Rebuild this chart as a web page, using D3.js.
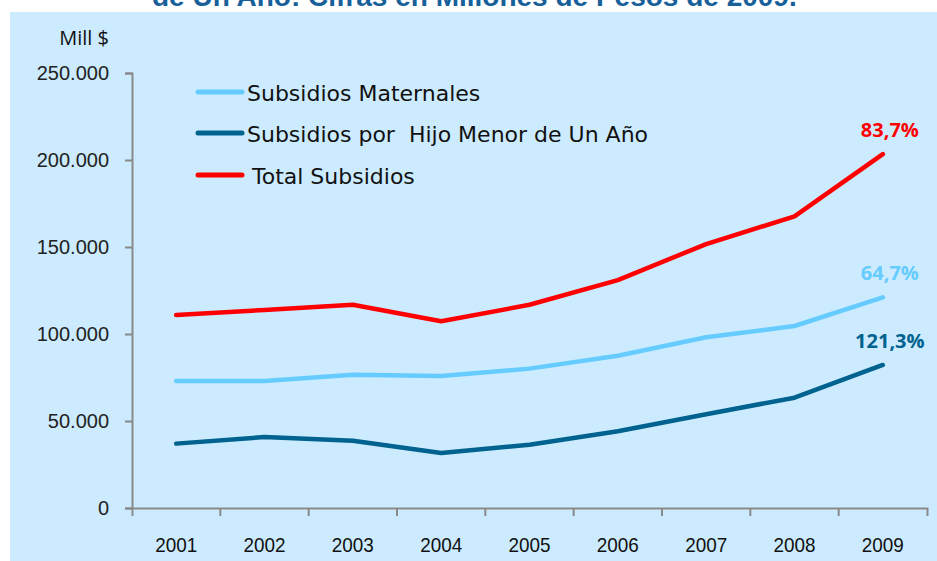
<!DOCTYPE html>
<html>
<head>
<meta charset="utf-8">
<script src="https://cdn.jsdelivr.net/npm/d3@7"></script>
<style>
  body { margin: 0; background: #fff; }
  svg { display: block; }
  text { white-space: pre; }
</style>
</head>
<body>
<svg id="chart" width="937" height="561"></svg>
<script>
// data, thousands of pesos (Mill $)
var years = ["2001", "2002", "2003", "2004", "2005", "2006", "2007", "2008", "2009"];
var maternales = [73000, 73000, 76600, 75900, 80100, 87500, 98100, 104600, 121100];
var hijoMenor = [37000, 40800, 38700, 31600, 36400, 44100, 53900, 63400, 82200];
var totalSub = [110900, 113800, 116800, 107300, 116800, 131000, 151700, 167600, 203400];
var seriesNames = ["Subsidios Maternales", "Subsidios por  Hijo Menor de Un Año", "Total Subsidios"];
var endLabels = ["64,7%", "121,3%", "83,7%"];
var yTicks = [0, 50000, 100000, 150000, 200000, 250000];

var colors = ["#66CCFF", "#00628F", "#FF0000"];

var svg = d3.select("#chart");

// title, cut off at top like the source slide
svg.append("text")
    .attr("x", 152)
    .attr("y", 6)
    .attr("fill", "#17609A")
    .style("font-family", "'Liberation Sans', Arial, sans-serif")
    .style("font-weight", "bold")
    .style("font-size", "28px")
    .text("de Un Año: Cifras en Millones de Pesos de 2009.");

// panel
svg.append("rect")
    .attr("x", 10).attr("y", 12)
    .attr("width", 927).attr("height", 549)
    .attr("fill", "#CCEBFE");

var x = d3.scaleBand().domain(years).range([132, 927]).padding(0);
var y = d3.scaleLinear().domain([0, 250000]).range([508, 73]);

var loc = d3.formatLocale({ decimal: ",", thousands: ".", grouping: [3], currency: ["$", ""] });
var fmt = loc.format(",d");

var axisColor = "#898989";

// y axis
var gy = svg.append("g")
    .attr("transform", "translate(132,0)")
    .call(d3.axisLeft(y).tickValues(yTicks).tickSize(7).tickPadding(16).tickFormat(fmt));
gy.selectAll("path, line").attr("stroke", axisColor).attr("stroke-width", 2);
gy.selectAll("text")
    .attr("fill", "#222")
    .style("font-family", "'Liberation Sans', Arial, sans-serif")
    .style("font-size", "20px");

// x axis
var gx = svg.append("g")
    .attr("transform", "translate(0,508)")
    .call(d3.axisBottom(x).tickSizeInner(0).tickSizeOuter(8).tickPadding(37));
gx.select(".domain").attr("stroke", axisColor).attr("stroke-width", 2);
gx.selectAll("text")
    .attr("fill", "#111")
    .attr("dy", "0.32em")
    .attr("textLength", 42)
    .attr("lengthAdjust", "spacingAndGlyphs")
    .style("font-family", "'Liberation Sans', Arial, sans-serif")
    .style("font-size", "21px");
gx.selectAll(".bound")
    .data(years.slice(1))
    .enter().append("line")
    .attr("class", "bound")
    .attr("x1", function(d) { return x(d); })
    .attr("x2", function(d) { return x(d); })
    .attr("y1", 0).attr("y2", 8)
    .attr("stroke", axisColor).attr("stroke-width", 2);

// y unit label
svg.append("text")
    .attr("x", 109).attr("y", 45)
    .attr("text-anchor", "end")
    .attr("fill", "#111")
    .style("font-family", "'Open Sans', sans-serif")
    .style("font-size", "20px")
    .text("Mill $");

var cx = function(i) { return x(years[i]) + x.bandwidth() / 2; };
var line = d3.line()
    .x(function(d, i) { return cx(i); })
    .y(function(d) { return y(d); });

var allSeries = [maternales, hijoMenor, totalSub];

svg.selectAll(".serie")
    .data(allSeries)
    .enter().append("path")
    .attr("class", "serie")
    .attr("fill", "none")
    .attr("stroke", function(d, i) { return colors[i]; })
    .attr("stroke-width", 4.5)
    .attr("stroke-linejoin", "round")
    .attr("stroke-linecap", "round")
    .attr("d", line);

// growth labels at the 2009 point
var last = years.length - 1;
svg.selectAll(".endlab")
    .data(allSeries)
    .enter().append("text")
    .attr("class", "endlab")
    .attr("x", cx(last) + 7)
    .attr("y", function(d) { return y(d[last]) - 17; })
    .attr("text-anchor", "middle")
    .attr("fill", function(d, i) { return colors[i]; })
    .style("font-family", "'Open Sans', sans-serif")
    .style("font-weight", "bold")
    .style("font-size", "20px")
    .text(function(d, i) { return endLabels[i]; });

// legend
var legRows = [92, 133, 175];
var leg = svg.selectAll(".leg")
    .data(seriesNames)
    .enter().append("g")
    .attr("class", "leg")
    .attr("transform", function(d, i) { return "translate(0," + legRows[i] + ")"; });
leg.append("line")
    .attr("x1", 198).attr("x2", 242)
    .attr("y1", 0).attr("y2", 0)
    .attr("stroke", function(d, i) { return colors[i]; })
    .attr("stroke-width", 5)
    .attr("stroke-linecap", "round");
leg.append("text")
    .attr("x", function(d, i) { return i == 2 ? 252 : 247; })
    .attr("y", 9)
    .attr("fill", "#111")
    .style("font-family", "'DejaVu Sans', sans-serif")
    .style("font-size", "22px")
    .text(function(d) { return d; });
</script>
</body>
</html>
